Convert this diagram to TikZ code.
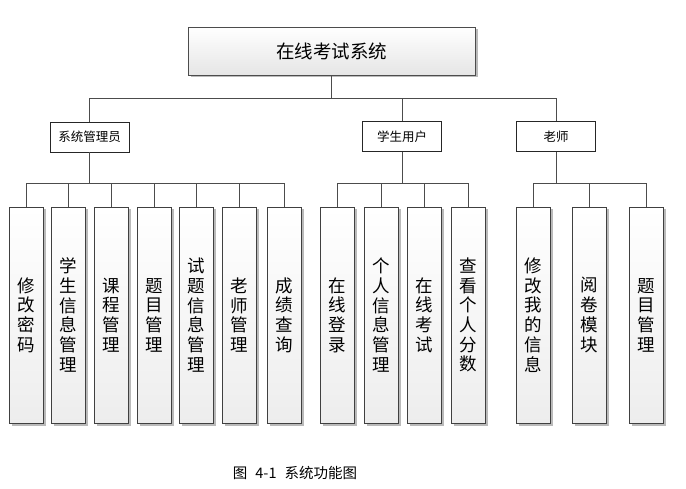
\documentclass[tikz,border=0pt]{standalone}
\usepackage{fontspec}
\newfontfamily\cjk{Noto Sans CJK SC}
\usetikzlibrary{shadows}

\begin{document}
\begin{tikzpicture}[x=1pt, y=-1pt, every node/.style={font=\cjk},
  boxshadow/.style={drop shadow={shadow xshift=2.5pt, shadow yshift=-2.5pt, fill=black!45, opacity=0.6}},
  rootbox/.style={boxshadow, draw=black!70, line width=0.8pt, top color=white, bottom color=black!10,
    minimum width=287pt, minimum height=48pt, inner sep=0pt, font=\cjk\fontsize{18.5}{20}\selectfont},
  rolebox/.style={draw=black!85, line width=0.8pt, fill=white, minimum width=79pt, minimum height=30pt,
    inner sep=0pt, font=\cjk\fontsize{12.5}{14}\selectfont},
  leafbox/.style={boxshadow, draw=black!75, line width=0.8pt, top color=white, bottom color=black!7,
    minimum width=34pt, minimum height=216pt, inner sep=0pt, align=center,
    font=\cjk\fontsize{17.5}{19.7}\selectfont},
  link/.style={draw=black!70, line width=0.9pt}]
  \useasboundingbox (0,0) rectangle (686,489);
  \node[rootbox] (sys) at (331.5,51) {在线考试系统};
  \node[rolebox] (adm) at (89.5,137) {系统管理员};
  \node[rolebox] (stu) at (402,136.5) {学生用户};
  \node[rolebox] (tea) at (556,136.5) {老师};
  \node[leafbox] (a1) at (26,315) {修\\改\\密\\码};
  \node[leafbox] (a2) at (68,315) {学\\生\\信\\息\\管\\理};
  \node[leafbox] (a3) at (111.5,315) {课\\程\\管\\理};
  \node[leafbox] (a4) at (154,315) {题\\目\\管\\理};
  \node[leafbox] (a5) at (196,315) {试\\题\\信\\息\\管\\理};
  \node[leafbox] (a6) at (239,315) {老\\师\\管\\理};
  \node[leafbox] (a7) at (284,315) {成\\绩\\查\\询};
  \node[leafbox] (s1) at (337,315) {在\\线\\登\\录};
  \node[leafbox] (s2) at (381,315) {个\\人\\信\\息\\管\\理};
  \node[leafbox] (s3) at (424.5,315) {在\\线\\考\\试};
  \node[leafbox] (s4) at (468,315) {查\\看\\个\\人\\分\\数};
  \node[leafbox] (t1) at (533,315) {修\\改\\我\\的\\信\\息};
  \node[leafbox] (t2) at (589,315) {阅\\卷\\模\\块};
  \node[leafbox] (t3) at (646,315) {题\\目\\管\\理};
  \node[font=\cjk\fontsize{14.5}{16}\selectfont] (cap) at (295,473) {图\hspace{8pt}4-1\hspace{8pt}系统功能图};
  \coordinate (sysbus) at (331.5,98);
  \coordinate (admbus) at (89.5,183);
  \coordinate (stubus) at (402,183);
  \coordinate (teabus) at (556,183);
  \draw[link] (sys.south) -- (sysbus);
  \foreach \n in {adm,stu,tea} \draw[link] (sysbus) -| (\n.north);
  \draw[link] (adm.south) -- (admbus);
  \draw[link] (stu.south) -- (stubus);
  \draw[link] (tea.south) -- (teabus);
  \foreach \n in {a1,a2,a3,a4,a5,a6,a7} \draw[link] (admbus) -| (\n.north);
  \foreach \n in {s1,s2,s3,s4} \draw[link] (stubus) -| (\n.north);
  \foreach \n in {t1,t2,t3} \draw[link] (teabus) -| (\n.north);
\end{tikzpicture}
\end{document}
